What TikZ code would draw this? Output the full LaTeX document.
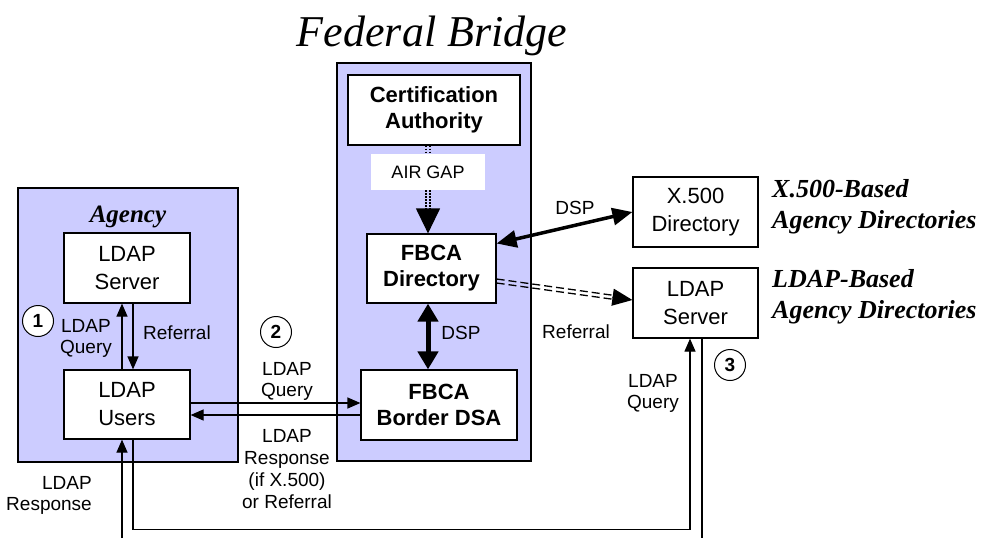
\documentclass[tikz,border=0pt]{standalone}
\usepackage{fontspec}
\setmainfont{Liberation Sans}
\newfontfamily\timesfont{Liberation Serif}
\usetikzlibrary{arrows.meta}
\definecolor{panelblue}{RGB}{204,204,255}

\begin{document}
\begin{tikzpicture}[x = 1pt, y = -1pt,
        panel/.style = {draw, line width = 1.2pt, fill = panelblue, inner sep = 0pt},
        box/.style = {draw, line width = 1.2pt, fill = white, align = center, inner sep = 0pt, font = \fontsize{22}{28}\selectfont},
        boldbox/.style = {box, font = \fontsize{22}{26}\selectfont\bfseries},
        lbl/.style = {align = center, inner sep = 0pt, anchor = base, font = \fontsize{19}{21}\selectfont},
        heading/.style = {align = left, inner sep = 0pt, anchor = base west, font = \timesfont\fontsize{26}{31}\selectfont\bfseries\itshape},
        num/.style = {circle, draw, line width = 1pt, fill = white, minimum size = 31pt, inner sep = 0pt, font = \fontsize{19}{19}\selectfont\bfseries},
        arr/.style = {line width = 1.2pt, -{Triangle[length = 13pt, width = 11pt]}},
        airdot/.style = {line width = 1.3pt, dash pattern = on 1.5pt off 1.5pt},
        refdash/.style = {line width = 1.3pt, dash pattern = on 8pt off 4pt},
        dspbold/.style = {line width = 5pt, {Triangle[length = 18pt, width = 20pt]}-{Triangle[length = 18pt, width = 20pt]}},
        dspline/.style = {line width = 3.5pt, {Triangle[length = 20pt, width = 17pt]}-{Triangle[length = 20pt, width = 17pt]}}]
        \fill[white] (0, 0) rectangle (981, 538);
        \useasboundingbox (0, 0) rectangle (981, 538);
        \node[anchor = base, inner sep = 0pt, font = \timesfont\fontsize{44}{44}\selectfont\itshape] (title) at (432, 46) {Federal Bridge};
        % agency side
        \node[panel, minimum width = 220pt, minimum height = 274pt] (agency) at (128, 325) {};
        \node[anchor = base, inner sep = 0pt, font = \timesfont\fontsize{25}{25}\selectfont\bfseries\itshape] (agencyname) at (128, 222) {Agency};
        \node[box, minimum width = 126pt, minimum height = 70pt] (lsrv) at (127, 268) {LDAP\\Server};
        \node[box, minimum width = 126pt, minimum height = 69pt] (lusr) at (127, 404.5) {LDAP\\Users};
        \draw[arr] ([xshift = -5pt]lusr.north) -- ([xshift = -5pt]lsrv.south);
        \draw[arr] ([xshift = 6pt]lsrv.south) -- ([xshift = 6pt]lusr.north);
        \node[lbl] (q1) at (86, 353) {LDAP\\Query};
        \node[lbl] (ref1) at (177, 339) {Referral};
        % bridge
        \node[panel, minimum width = 194pt, minimum height = 398pt] (fbca) at (434, 262) {};
        \node[boldbox, minimum width = 172pt, minimum height = 70pt] (ca) at (434, 110) {Certification\\Authority};
        \node[fill = white, minimum width = 114pt, minimum height = 36pt, inner sep = 0pt, font = \fontsize{18}{18}\selectfont] (airgap) at (428, 172) {AIR GAP};
        \node[boldbox, minimum width = 129pt, minimum height = 69pt] (fdir) at (431.5, 268.5) {FBCA\\Directory};
        \node[boldbox, minimum width = 156pt, minimum height = 70pt] (bdsa) at (439, 405) {FBCA\\Border DSA};
        \foreach \s in {-2pt, 2pt}{
            \draw[airdot] ([xshift = \s]airgap.north |- ca.south) -- ([xshift = \s]airgap.north);
            \draw[airdot, shorten > = 22pt] ([xshift = \s]airgap.south) -- ([xshift = \s]airgap.south |- fdir.north);
        }
        \draw[line width = 1.2pt, -{Triangle[length = 25pt, width = 24pt]}, shorten < = 19pt] (airgap.south) -- (airgap.south |- fdir.north);
        \draw[dspbold] ([xshift = -3.5pt]fdir.south) -- ([xshift = -3.5pt]fdir.south |- bdsa.north);
        \node[lbl] (dsp1) at (461, 339) {DSP};
        % agency users to bridge
        \draw[arr] ([yshift = 1.5pt]lusr.east) -- ([yshift = 1.5pt]lusr.east -| bdsa.west);
        \draw[arr] ([yshift = -10.5pt]lusr.east -| bdsa.west) -- ([yshift = -10.5pt]lusr.east);
        \node[lbl] (q2) at (287, 396) {LDAP\\Query};
        \node[lbl, font = \fontsize{19}{22}\selectfont] (resp2) at (287, 508) {LDAP\\Response\\(if X.500)\\or Referral};
        % other agency directories
        \node[box, minimum width = 125pt, minimum height = 70pt] (x500) at (695.5, 212) {X.500\\Directory};
        \node[box, minimum width = 125pt, minimum height = 70pt] (rsrv) at (695.5, 303) {LDAP\\Server};
        \node[heading] (x500head) at (772, 228) {X.500-Based\\Agency Directories};
        \node[heading] (ldaphead) at (772, 318) {LDAP-Based\\Agency Directories};
        \draw[dspline] ([yshift = 25pt]fdir.east) -- (x500.west);
        \node[lbl] (dsp2) at (575, 214) {DSP};
        \coordinate (refout) at ([yshift = -12.5pt]fdir.east);
        \coordinate (refin) at ([yshift = 3pt]rsrv.west);
        \foreach \s in {-2pt, 2pt}{
            \draw[refdash, shorten > = 16pt] ([yshift = \s]refout) -- ([yshift = \s]refin);
        }
        \draw[line width = 1.2pt, -{Triangle[length = 20pt, width = 17pt]}, shorten < = 117pt] (refout) -- (refin);
        \node[lbl] (ref2) at (576, 338) {Referral};
        % query loop at the bottom
        \coordinate (lrespin) at (122, 538);
        \coordinate (rrespout) at (702, 538);
        \draw[arr] (lrespin) -- (lrespin |- lusr.south);
        \draw[arr] ([xshift = 6pt]lusr.south) -- ++(0, 90) -| ([xshift = -5.5pt]rsrv.south);
        \draw[line width = 1.2pt] (rrespout |- rsrv.south) -- (rrespout);
        \node[lbl, align = right, anchor = base east] (resp1) at (92, 510) {LDAP\\Response};
        \node[lbl] (q3) at (653, 408) {LDAP\\Query};
        \foreach \n/\x/\y in {1/38/321, 2/276/332, 3/730/365}{
            \node[num] (step\n) at (\x, \y) {\n};
        }
\end{tikzpicture}
\end{document}
